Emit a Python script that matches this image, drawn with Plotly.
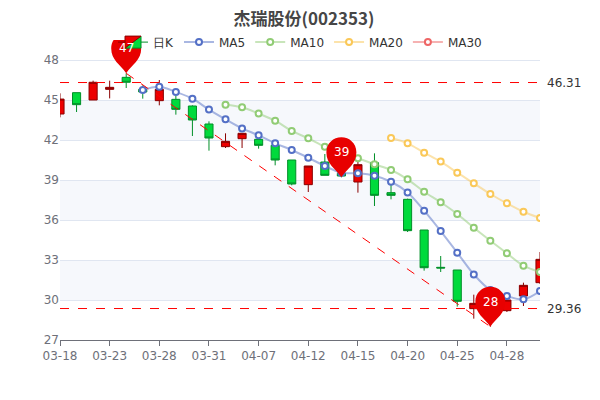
import plotly.graph_objects as go

dates = ["03-18","03-19","03-22","03-23","03-24","03-25","03-28","03-29","03-30","03-31",
         "04-01","04-06","04-07","04-08","04-09","04-12","04-13","04-14","04-15","04-16",
         "04-19","04-20","04-21","04-22","04-25","04-26","04-27","04-28","04-29","04-30"]
opens  = [43.95,45.55,45.0,45.8,46.7,45.8,44.95,45.05,44.55,43.2,41.5,42.1,42.05,41.6,40.5,38.65,40.35,39.5,38.85,40.3,38.05,37.55,35.25,32.45,32.25,29.35,28.7,29.2,30.3,31.3]
closes = [45.07,44.65,46.33,45.95,46.33,45.6,45.8,44.3,43.5,42.15,41.9,42.5,41.6,40.5,38.7,40.05,39.35,39.3,40.15,37.85,37.85,35.2,32.42,32.4,29.9,29.75,29.5,30.0,31.1,33.05]
highs  = [45.5,45.55,46.45,46.45,47.0,46.1,46.5,45.3,44.6,43.4,42.5,42.5,42.3,41.6,40.5,40.05,40.95,39.6,40.4,41.0,38.7,37.6,35.25,33.3,32.25,30.4,29.6,30.1,31.3,33.6]
lows   = [43.7,44.1,45.0,45.12,45.9,45.1,44.6,43.9,42.3,41.2,41.4,41.4,41.35,40.1,38.6,38.1,39.35,39.2,38.05,37.05,37.55,35.1,32.2,32.1,29.5,28.6,28.0,29.1,29.55,31.2]
ma5  = [None]*5 + [45.75,46.0,45.6,45.1,44.28,43.55,42.87,42.35,41.75,41.25,40.67,40.05,39.55,39.5,39.32,38.87,38.07,36.7,35.17,33.55,31.92,30.75,30.3,30.05,30.67]
ma10 = [None]*10 + [44.65,44.45,43.98,43.45,42.68,42.13,41.5,41.1,40.63,40.18,39.75,39.05,38.12,37.33,36.45,35.42,34.45,33.5,32.57,32.1]
ma20 = [None]*20 + [42.15,41.75,41.05,40.38,39.55,38.75,37.95,37.25,36.62,36.15]
ma30 = [None]*30
ticks_idx = [0,3,6,9,12,15,18,21,24,27]
yticks = [27,30,33,36,39,42,45,48]
hi_line, lo_line = 46.31, 29.36
pins = [(4, 47.0, "47"), (17, 39.2, "39"), (26, 28.0, "28")]

x = list(range(len(dates)))
fig = go.Figure()
fig.add_trace(go.Candlestick(x=x, open=opens, high=highs, low=lows, close=closes, name="日K",
    increasing=dict(fillcolor="#ec0000", line=dict(color="#8a0000", width=1)),
    decreasing=dict(fillcolor="#00da3c", line=dict(color="#008f28", width=1)),
    whiskerwidth=0, hoverinfo="skip"))
for name, vals, col, rgba in [("MA5", ma5, "#5470c6", "rgba(84,112,198,0.5)"),
                              ("MA10", ma10, "#91cc75", "rgba(145,204,117,0.5)"),
                              ("MA20", ma20, "#fac858", "rgba(250,200,88,0.5)"),
                              ("MA30", ma30, "#ee6666", "rgba(238,102,102,0.5)")]:
    fig.add_trace(go.Scatter(x=x, y=vals, name=name, mode="lines+markers",
        line=dict(color=rgba, width=2, shape="spline"),
        marker=dict(symbol="circle", size=6, color="white", line=dict(color=col, width=2))))

shapes = []
for lo in [42, 36, 30]:
    shapes.append(dict(type="rect", xref="paper", x0=0, x1=1, yref="y", y0=lo, y1=lo+3,
                       fillcolor="#f6f8fc", line_width=0, layer="below"))
for v in [hi_line, lo_line]:
    shapes.append(dict(type="line", xref="paper", x0=0, x1=1, yref="y", y0=v, y1=v,
                       line=dict(color="red", width=1, dash="dash")))
shapes.append(dict(type="line", x0=4, y0=47.0, x1=26, y1=28.0, line=dict(color="red", width=1, dash="dash")))
ann = []
pin_path = "M 0 0 C -6 9 -15 13 -15 25 C -15 34 -8 40 0 40 C 8 40 15 34 15 25 C 15 13 6 9 0 0 Z"
for xi, yv, t in pins:
    shapes.append(dict(type="path", xsizemode="pixel", ysizemode="pixel", xanchor=xi, yanchor=yv,
                       path=pin_path, fillcolor="#e80000", line_width=0))
    ann.append(dict(x=xi, y=yv, text=t, showarrow=False, yshift=25, font=dict(color="white", size=12)))
for v in [hi_line, lo_line]:
    ann.append(dict(xref="paper", x=1.01, y=v, xanchor="left", text=f"{v:.2f}", showarrow=False,
                    font=dict(color="#333", size=12)))

fig.update_layout(
    width=592, height=392, plot_bgcolor="white", paper_bgcolor="white",
    margin=dict(l=52, r=60, t=32, b=60, autoexpand=False),
    title=dict(text="<b>杰瑞股份(002353)</b>", x=0.5, y=0.972, xanchor="center", yanchor="middle",
               font=dict(size=17, color="#464646", family="Noto Sans CJK SC")),
    font=dict(family="DejaVu Sans", color="#6e7079", size=12),
    legend=dict(orientation="h", x=0.5, xanchor="center", y=0.993, yanchor="middle",
                font=dict(size=12, color="#333"), itemwidth=30, bgcolor="rgba(0,0,0,0)"),
    shapes=shapes, annotations=ann, showlegend=True,
    xaxis=dict(range=[0, 29], tickvals=ticks_idx, ticktext=[dates[i] for i in ticks_idx],
               rangeslider=dict(visible=False), showgrid=False, showline=True, linecolor="#6e7079",
               ticks="outside", ticklen=5, tickcolor="#6e7079", zeroline=False),
    yaxis=dict(range=[27, 49.5], tickvals=yticks, gridcolor="#e0e6f1", zeroline=False),
)
fig.write_html("out.html")
